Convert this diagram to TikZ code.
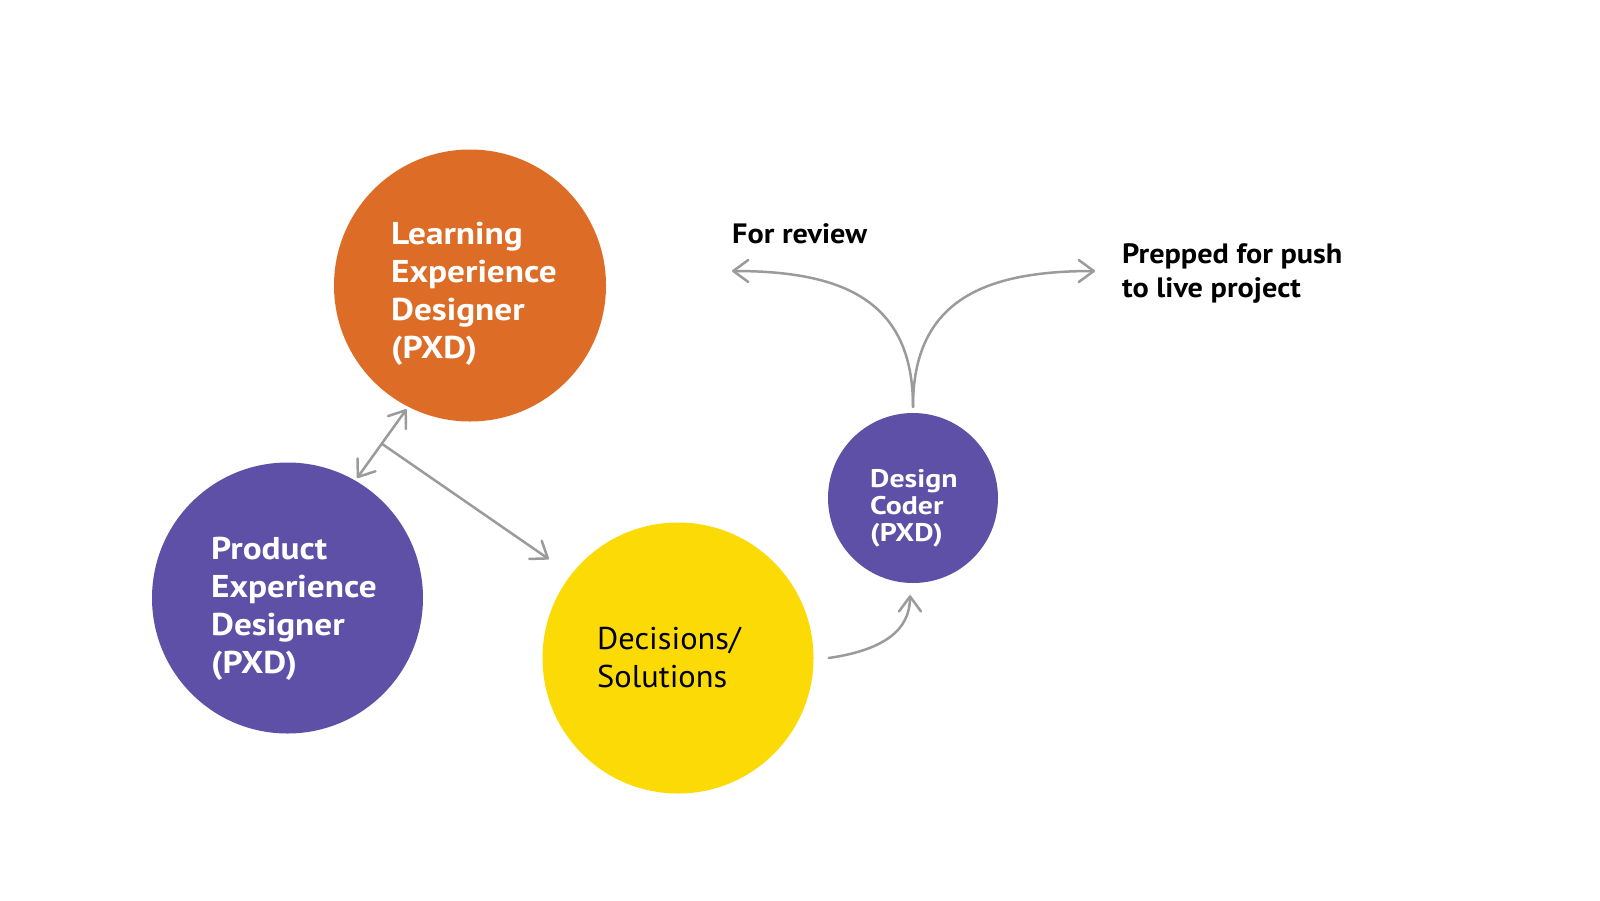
\documentclass[tikz,border=0pt]{standalone}
\usepackage{fontspec}
\setmainfont{PT Sans}
\newfontfamily\bigf{PT Sans}[FakeStretch=1.12]
\newfontfamily\dcf{PT Sans}[FakeStretch=1.17]
\newfontfamily\labf{PT Sans}[FakeStretch=1.08]
\newfontfamily\regf{PT Sans}[FakeStretch=1.03]
\usetikzlibrary{arrows.meta,calc}
\definecolor{lxdorange}{RGB}{220,108,38}
\definecolor{pxdpurple}{RGB}{94,80,166}
\definecolor{decyellow}{RGB}{252,218,5}
\definecolor{arrgray}{RGB}{155,155,155}
\begin{document}
\begin{tikzpicture}[x=1pt,y=-1pt,
  bubble/.style={circle,inner sep=0pt,minimum size=#1},
  big/.style={font=\bigf\bfseries\fontsize{31.5}{38}\selectfont,text=white,align=left,inner sep=0pt,anchor=base west},
  small/.style={font=\dcf\bfseries\fontsize{25.5}{27}\selectfont,text=white,align=left,inner sep=0pt,anchor=base west},
  lab/.style={font=\labf\bfseries\fontsize{28}{34}\selectfont,text=black,align=left,inner sep=0pt,anchor=base west},
  reg/.style={font=\regf\fontsize{31.5}{38}\selectfont,text=black,align=left,inner sep=0pt,anchor=base west},
  tipb/.tip={Straight Barb[length=15pt,width=22pt,line cap=round,line join=round]},
  arr/.style={draw=arrgray,line width=2.5pt,line cap=round,-tipb},
  darr/.style={draw=arrgray,line width=2.5pt,tipb-tipb}
]
\fill[white] (0,0) rectangle (1600,900);
\path[use as bounding box] (0,0) rectangle (1600,900);

\node[bubble=272pt,fill=lxdorange] (lxd) at (470,285.5) {};
\node[bubble=271pt,fill=pxdpurple] (pxd) at (287.5,598) {};
\node[bubble=271pt,fill=decyellow] (dec) at (678,658) {};
\node[bubble=170pt,fill=pxdpurple] (dc) at (913,498) {};

\node[big] (lxdt) at (391,358) {Learning\\Experience\\Designer\\(PXD)};
\node[big] (pxdt) at (211,673) {Product\\Experience\\Designer\\(PXD)};
\node[reg] (dect) at (597,687) {Decisions/\\Solutions};
\node[small] (dct) at (870,541) {Design\\Coder\\(PXD)};
\node[lab] (rev) at (732,243) {For review};
\node[lab] (push) at (1122,297) {Prepped for push\\to live project};

\draw[darr,shorten <=3pt,shorten >=3pt] (lxd.-117) -- (pxd.60);
\coordinate (m) at ($(lxd.-117)!0.5!(pxd.60)$);
\draw[arr,shorten >=27pt] (m) -- (dec.142);

\draw[arr] ([xshift=15pt]dec.east) .. controls +(55,-8) and +(0,35) .. ([xshift=-3pt,yshift=-12pt]dc.south);

\coordinate (s) at ([yshift=6pt]dc.north);
\coordinate (revtip) at (732,271);
\coordinate (pushtip) at (1095,271);
\draw[arr] (s) .. controls +(0,-107) and +(110,0) .. (revtip);
\draw[arr] (s) .. controls +(0,-107) and +(-110,0) .. (pushtip);
\end{tikzpicture}
\end{document}
